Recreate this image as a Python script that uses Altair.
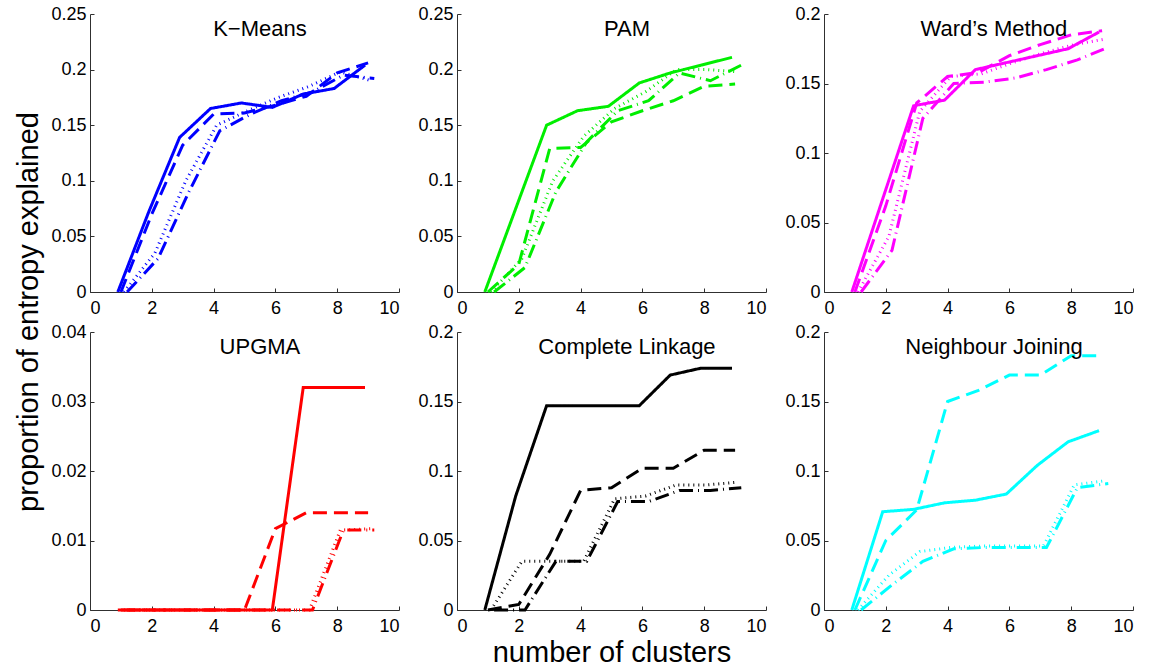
import altair as alt
import pandas as pd

FONT = "Liberation Sans"

clusters = [1, 2, 3, 4, 5, 6, 7, 8, 9]
styles = ["solid", "dashed", "dotted", "dashdot"]
style_shift = {"solid": -0.1, "dashed": 0.0, "dotted": 0.1, "dashdot": 0.2}
dash_patterns = [[1, 0], [14, 7], [1, 4], [14, 5, 1, 5]]

# ---- values ----
kmeans_solid = [0, 0.072, 0.139, 0.165, 0.170, 0.166, 0.178, 0.183, 0.204]
kmeans_dashed = [0, 0.070, 0.132, 0.160, 0.161, 0.168, 0.176, 0.197, 0.206]
kmeans_dotted = [0, 0.035, 0.100, 0.150, 0.163, 0.175, 0.185, 0.198, 0.190]
kmeans_dashdot = [0, 0.030, 0.090, 0.145, 0.160, 0.172, 0.180, 0.195, 0.192]

pam_solid = [0, 0.075, 0.150, 0.163, 0.167, 0.188, 0.197, 0.204, 0.211]
pam_dashed = [0, 0.025, 0.129, 0.130, 0.153, 0.163, 0.172, 0.185, 0.187]
pam_dotted = [0, 0.030, 0.100, 0.140, 0.165, 0.180, 0.200, 0.200, 0.198]
pam_dashdot = [0, 0.022, 0.090, 0.135, 0.163, 0.172, 0.197, 0.190, 0.204]

ward_solid = [0, 0.067, 0.134, 0.138, 0.160, 0.165, 0.170, 0.175, 0.187]
ward_dashed = [0, 0.062, 0.136, 0.155, 0.158, 0.170, 0.178, 0.185, 0.188]
ward_dotted = [0, 0.040, 0.130, 0.155, 0.157, 0.165, 0.172, 0.178, 0.182]
ward_dashdot = [0, 0.030, 0.125, 0.150, 0.151, 0.154, 0.160, 0.167, 0.176]

upgma_solid = [0, 0, 0, 0, 0, 0, 0.032, 0.032, 0.032]
upgma_dashed = [0, 0, 0, 0, 0, 0.0117, 0.014, 0.014, 0.014]
upgma_dotted = [0, 0, 0, 0, 0, 0, 0, 0.0115, 0.0117]
upgma_dashdot = [0, 0, 0, 0, 0, 0, 0, 0.0115, 0.0115]

cl_solid = [0, 0.082, 0.147, 0.147, 0.147, 0.147, 0.169, 0.174, 0.174]
cl_dashed = [0, 0.004, 0.040, 0.086, 0.088, 0.102, 0.102, 0.115, 0.115]
cl_dotted = [0, 0.035, 0.035, 0.035, 0.080, 0.082, 0.090, 0.090, 0.092]
cl_dashdot = [0, 0, 0.035, 0.035, 0.078, 0.078, 0.086, 0.086, 0.088]

nj_solid = [0, 0.0707, 0.0724, 0.0771, 0.079, 0.0834, 0.104, 0.121, 0.129]
nj_dashed = [0, 0.050, 0.072, 0.150, 0.158, 0.169, 0.169, 0.183, 0.183]
nj_dotted = [0, 0.025, 0.042, 0.045, 0.046, 0.046, 0.046, 0.090, 0.093]
nj_dashdot = [0, 0.018, 0.035, 0.044, 0.045, 0.045, 0.045, 0.088, 0.091]

x_ticks = [0, 2, 4, 6, 8, 10]
y_ticks_025 = [0, 0.05, 0.1, 0.15, 0.2, 0.25]
y_ticks_020 = [0, 0.05, 0.1, 0.15, 0.2]
y_ticks_004 = [0, 0.01, 0.02, 0.03, 0.04]

panels = [
    ("K\u2212Means", "#0000ff", y_ticks_025,
     [kmeans_solid, kmeans_dashed, kmeans_dotted, kmeans_dashdot]),
    ("PAM", "#00ee00", y_ticks_025,
     [pam_solid, pam_dashed, pam_dotted, pam_dashdot]),
    ("Ward\u2019s Method", "#ff00ff", y_ticks_020,
     [ward_solid, ward_dashed, ward_dotted, ward_dashdot]),
    ("UPGMA", "#ff0000", y_ticks_004,
     [upgma_solid, upgma_dashed, upgma_dotted, upgma_dashdot]),
    ("Complete Linkage", "#000000", y_ticks_020,
     [cl_solid, cl_dashed, cl_dotted, cl_dashdot]),
    ("Neighbour Joining", "#00ffff", y_ticks_020,
     [nj_solid, nj_dashed, nj_dotted, nj_dashdot]),
]

W, H = 309, 278
AX = "#303030"


def make_panel(idx, title, color, yticks, series):
    rows = []
    for st, vals in zip(styles, series):
        for k, v in zip(clusters, vals):
            rows.append({"style": st, "k": k, "xp": k + style_shift[st], "value": v})
    df = pd.DataFrame(rows)

    xaxis_kw = dict(
        values=x_ticks, format="d", grid=False, domainColor=AX, tickColor=AX,
        tickSize={"expr": "-4"}, labelPadding=11, labelFontSize=18, labelFont=FONT,
        labelColor="black",
    )
    if idx == 4:
        xaxis = alt.Axis(title="number of clusters", titleFontSize=29, titleFont=FONT,
                         titleFontWeight="normal", titleColor="black",
                         titleY=51, titleBaseline="alphabetic", **xaxis_kw)
    else:
        xaxis = alt.Axis(title=None, **xaxis_kw)

    yaxis_kw = dict(
        values=yticks, format="~g", grid=False, domainColor=AX, tickColor=AX,
        tickSize={"expr": "-4"}, labelPadding=8, labelFontSize=18, labelFont=FONT,
        labelColor="black",
    )
    if idx == 0:
        yaxis = alt.Axis(title="proportion of entropy explained", titleFontSize=29,
                         titleFont=FONT, titleFontWeight="normal", titleColor="black",
                         titleX=-53, titleY=297.5, titleAngle=270, titleAlign="center",
                         titleBaseline="alphabetic", **yaxis_kw)
    else:
        yaxis = alt.Axis(title=None, **yaxis_kw)

    lines = alt.Chart(df).mark_line(strokeWidth=3, strokeCap="butt", color=color).encode(
        x=alt.X("xp:Q", scale=alt.Scale(domain=[0, 10], nice=False), axis=xaxis),
        y=alt.Y("value:Q", scale=alt.Scale(domain=[0, yticks[-1]], nice=False), axis=yaxis),
        detail="style:N",
        strokeDash=alt.StrokeDash("style:N", scale=alt.Scale(domain=styles, range=dash_patterns),
                                  legend=None),
        order="k:Q",
    )
    label = alt.Chart(pd.DataFrame({"t": [title]})).mark_text(
        font=FONT, fontSize=22, color="black", align="center", baseline="alphabetic"
    ).encode(x=alt.datum(5.5), y=alt.value(22), text="t:N")
    return alt.layer(lines, label).properties(width=W, height=H)


charts = [make_panel(i, *p) for i, p in enumerate(panels)]
chart = alt.concat(
    *charts, columns=3, spacing={"row": 40, "column": 58}, bounds="flush"
).properties(
    padding={"left": 14, "top": 5, "right": 5, "bottom": 5},
    background="white",
).configure_view(stroke=None)

chart.save("out.html", embed_options={"renderer": "svg", "actions": False})
